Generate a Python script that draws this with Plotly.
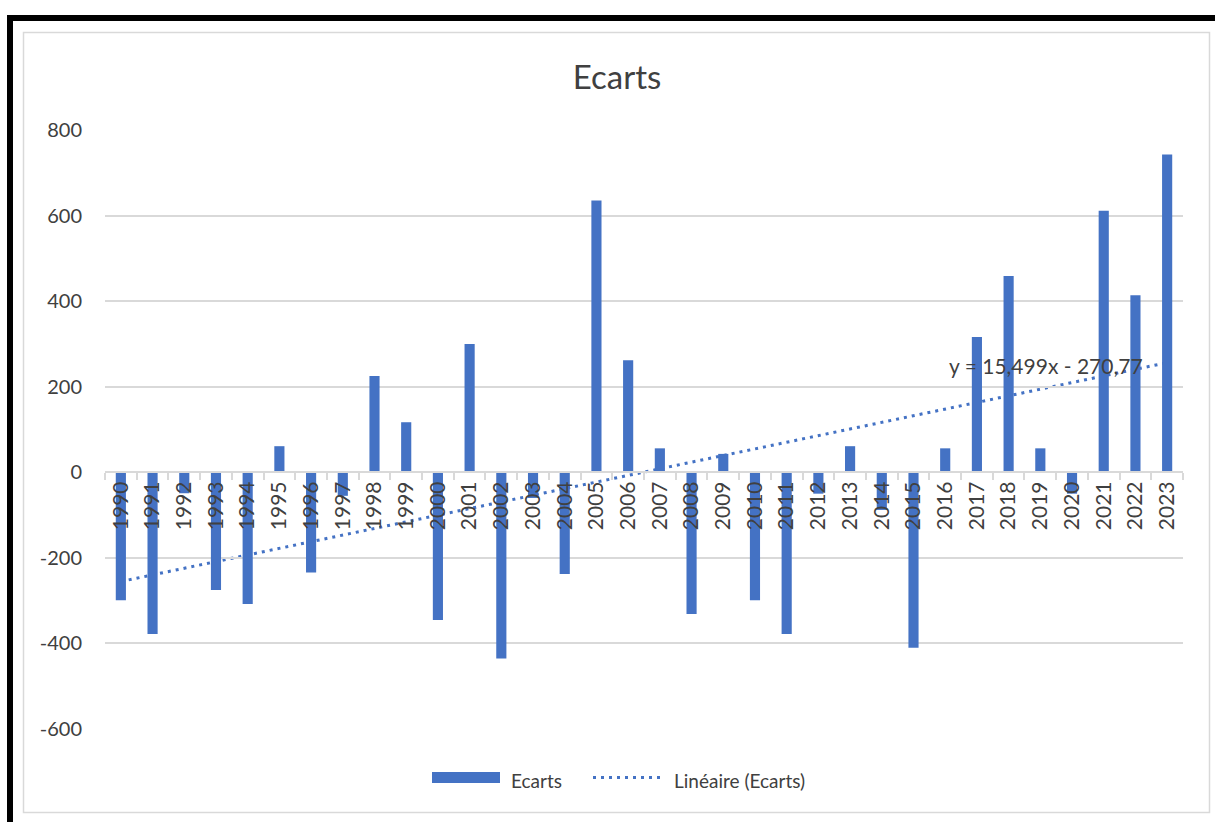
import plotly.graph_objects as go

# ---------------- data ----------------
years = [str(y) for y in range(1990, 2024)]
ecarts = [-299, -378, -49, -275, -308, 61, -234, -55, 225, 117,
          -345, 300, -435, -60, -238, 635, 262, 56, -331, 43,
          -299, -378, -50, 61, -88, -410, 56, 316, 459, 56,
          -50, 611, 414, 743]
trend_slope = 15.499
trend_intercept = -270.77
trend_label = "y = 15,499x - 270,77"
title_text = "Ecarts"
legend_bar = "Ecarts"
legend_line = "Linéaire (Ecarts)"
y_ticks = [-600, -400, -200, 0, 200, 400, 600, 800]

n = len(years)
trend_start = trend_slope * 1 + trend_intercept
trend_end = trend_slope * n + trend_intercept

# ---------------- layout geometry ----------------
W, H = 1215, 822
L, R, T, B = 105, 1183, 130, 729
FONT = "Lato"
TXT = "#404040"
GRID = "#d9d9d9"
BLUE = "#4472C4"
DOTS = "3px,5px"


def px(x):
    return (x - L) / (R - L)


def py(y):
    return (B - y) / (B - T)


fig = go.Figure()
fig.add_trace(go.Bar(x=years, y=ecarts, marker_color=BLUE, marker_line_width=0,
                     name=legend_bar, showlegend=False))

shapes = []
# linear trend line (drawn beneath the bars, as in the reference)
shapes.append(dict(type="line", xref="x", yref="y",
                   x0=0, x1=n - 1, y0=trend_start, y1=trend_end,
                   line=dict(color=BLUE, width=3, dash=DOTS), layer="below"))
# outer black frame (top and left)
shapes.append(dict(type="rect", xref="paper", yref="paper",
                   x0=px(7), x1=px(1215), y0=py(21), y1=py(15),
                   fillcolor="black", line_width=0, layer="above"))
shapes.append(dict(type="rect", xref="paper", yref="paper",
                   x0=px(7), x1=px(13), y0=py(822), y1=py(15),
                   fillcolor="black", line_width=0, layer="above"))
# chart area border
shapes.append(dict(type="rect", xref="paper", yref="paper",
                   x0=px(23.5), x1=px(1209.5), y0=py(812.5), y1=py(32.5),
                   line=dict(color=GRID, width=1.5), layer="below"))
# legend swatches
shapes.append(dict(type="rect", xref="paper", yref="paper",
                   x0=px(432), x1=px(500), y0=py(783), y1=py(772),
                   fillcolor=BLUE, line_width=0))
shapes.append(dict(type="line", xref="paper", yref="paper",
                   x0=px(593), x1=px(662), y0=py(777.5), y1=py(777.5),
                   line=dict(color=BLUE, width=3, dash=DOTS)))

annotations = [
    dict(xref="paper", yref="paper", x=px(509), y=py(780), text=legend_bar,
         showarrow=False, xanchor="left", yanchor="middle",
         font=dict(family=FONT, size=19, color=TXT)),
    dict(xref="paper", yref="paper", x=px(672), y=py(780), text=legend_line,
         showarrow=False, xanchor="left", yanchor="middle",
         font=dict(family=FONT, size=19, color=TXT)),
    dict(xref="paper", yref="paper", x=px(1046), y=py(365), text=trend_label,
         showarrow=False, xanchor="center", yanchor="middle",
         font=dict(family=FONT, size=21, color=TXT)),
]

fig.update_layout(
    width=W, height=H,
    margin=dict(l=L, r=W - R, t=T, b=H - B, pad=0),
    paper_bgcolor="white", plot_bgcolor="white",
    title=dict(text=title_text, xref="container", yref="container",
               x=617 / W, y=1 - 77 / H, xanchor="center", yanchor="middle",
               font=dict(family=FONT, size=33, color=TXT)),
    bargap=0.68,
    shapes=shapes,
    annotations=annotations,
    showlegend=False,
    font=dict(family=FONT, color=TXT),
)
fig.update_xaxes(
    type="category", anchor="free", position=600 / 1400,
    showline=True, linecolor=GRID, linewidth=1.5,
    tickson="boundaries", ticks="outside", ticklen=7, tickcolor=GRID, tickwidth=1.5,
    tickangle=-90, tickfont=dict(family=FONT, size=21, color=TXT),
    showgrid=False, zeroline=False,
)
fig.update_yaxes(
    range=[-600, 800], tickvals=y_ticks, ticktext=[str(v) for v in y_ticks],
    showgrid=True, gridcolor=GRID, gridwidth=1.5,
    zeroline=False, showline=False, ticks="",
    ticklabelstandoff=22,
    tickfont=dict(family=FONT, size=20, color=TXT),
)

fig.write_html("out.html")
